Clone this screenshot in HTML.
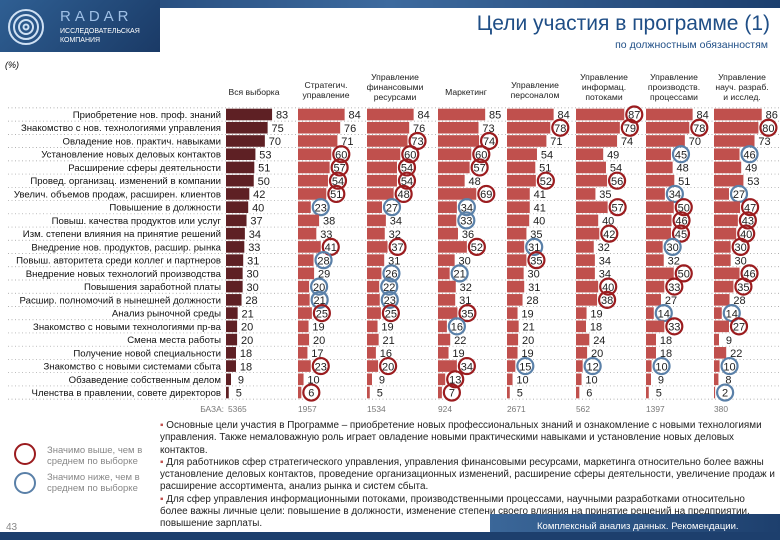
<!DOCTYPE html>
<html><head><meta charset="utf-8">
<style>
body{margin:0;width:780px;height:540px;overflow:hidden;background:#fff;font-family:"Liberation Sans",sans-serif;position:relative}
.abs{position:absolute}
</style></head><body>
<div class="abs" style="left:0;top:0;width:780px;height:8px;background:linear-gradient(90deg,#1c3f6e,#3d6a9e,#1c3f6e)"></div>
<div class="abs" style="left:0;top:0;width:160px;height:52px;background:linear-gradient(135deg,#2f5f93,#1a3a66)"></div>
<svg class="abs" style="left:6px;top:6px" width="40" height="42"><g fill="none" stroke="#cfe0f3" stroke-width="2"><circle cx="20" cy="21" r="17"/><circle cx="20" cy="21" r="12"/><circle cx="20" cy="21" r="7"/><circle cx="20" cy="21" r="2.5"/></g></svg>
<div class="abs" style="left:60px;top:8px;color:#9fc0e6;font-size:15px;letter-spacing:4px">RADAR</div>
<div class="abs" style="left:60px;top:27px;color:#fff;font-size:7px;line-height:9px">ИССЛЕДОВАТЕЛЬСКАЯ<br>КОМПАНИЯ</div>
<div class="abs" style="right:10px;top:12px;color:#1f4e86;font-size:21px">Цели участия в программе (1)</div>
<div class="abs" style="right:12px;top:39px;color:#1f4e86;font-size:10.5px">по должностным обязанностям</div>
<div class="abs" style="left:5px;top:60px;font-size:9px;font-style:italic">(%)</div>
<svg id="chart" class="abs" style="left:0;top:0" width="780" height="415"></svg>
<div class="abs" style="left:14px;top:443px;width:18px;height:18px;border:2.5px solid #9b1c1f;border-radius:50%"></div>
<div class="abs" style="left:47px;top:445px;font-size:9.5px;color:#888;line-height:11px">Значимо выше, чем в<br>среднем по выборке</div>
<div class="abs" style="left:14px;top:472px;width:18px;height:18px;border:2.5px solid #5a80a8;border-radius:50%"></div>
<div class="abs" style="left:47px;top:472px;font-size:9.5px;color:#888;line-height:11px">Значимо ниже, чем в<br>среднем по выборке</div>
<div class="abs" style="left:6px;top:522px;font-size:10px;color:#888">43</div>
<div class="abs" style="left:160px;top:420px;width:615px;font-size:9.9px;line-height:12.3px;color:#222">
<span style="color:#c0504d">▪</span> Основные цели участия в Программе – приобретение новых профессиональных знаний и ознакомление с новыми технологиями управления. Также немаловажную роль играет овладение новыми практическими навыками и установление новых деловых контактов.<br>
<span style="color:#c0504d">▪</span> Для работников сфер стратегического управления, управления финансовыми ресурсами, маркетинга относительно более важны установление деловых контактов, проведение организационных изменений, расширение сферы деятельности, увеличение продаж и расширение ассортимента, анализ рынка и систем сбыта.<br>
<span style="color:#c0504d">▪</span> Для сфер управления информационными потоками, производственными процессами, научными разработками относительно более важны личные цели: повышение в должности, изменение степени своего влияния на принятие решений на предприятии, повышение зарплаты.</div>
<div class="abs" style="left:490px;top:514px;width:290px;height:26px;background:linear-gradient(90deg,#3b6799,#1d3f6d)"></div>
<div class="abs" style="left:0;top:532px;width:780px;height:8px;background:#1d3f6d"></div>
<div class="abs" style="left:537px;top:521px;font-size:9.5px;color:#fff">Комплексный анализ данных. Рекомендации.</div>
<script>
const categories=["Приобретение нов. проф. знаний","Знакомство с нов. технологиями управления","Овладение нов. практич. навыками","Установление новых деловых контактов","Расширение сферы деятельности","Провед. организац. изменений в компании","Увелич. объемов продаж, расширен. клиентов","Повышение в должности","Повыш. качества продуктов или услуг","Изм. степени влияния на принятие решений","Внедрение нов. продуктов, расшир. рынка","Повыш. авторитета среди коллег и партнеров","Внедрение новых технологий производства","Повышения заработной платы","Расшир. полномочий в нынешней должности","Анализ рыночной среды","Знакомство с новыми технологиями пр-ва","Смена места работы","Получение новой специальности","Знакомство с новыми системами сбыта","Обзаведение собственным делом","Членства в правлении, совете директоров"];
const groups=["Вся выборка","Стратегич.|управление","Управление|финансовыми|ресурсами","Маркетинг","Управление|персоналом","Управление|информац.|потоками","Управление|производств.|процессами","Управление|науч. разраб.|и исслед."];
const bases=["5365","1957","1534","924","2671","562","1397","380"];
const s0=[83,75,70,53,51,50,42,40,37,34,33,31,30,30,28,21,20,20,18,18,9,5];
const s1=[84,76,71,60,57,54,51,23,38,33,41,28,29,20,21,25,19,20,17,23,10,6];
const s2=[84,76,73,60,54,54,48,27,34,32,37,31,26,22,23,25,19,21,16,20,9,5];
const s3=[85,73,74,60,57,48,69,34,33,36,52,30,21,32,31,35,16,22,19,34,13,7];
const s4=[84,78,71,54,51,52,41,41,40,35,31,35,30,31,28,19,21,20,19,15,10,5];
const s5=[87,79,74,49,54,56,35,57,40,42,32,34,34,40,38,19,18,24,20,12,10,6];
const s6=[84,78,70,45,48,51,34,50,46,45,30,32,50,33,27,14,33,18,18,10,9,5];
const s7=[86,80,73,46,49,53,27,47,43,40,30,30,46,35,28,14,27,9,22,10,8,2];
const sig=[
"0000000000000000000000",
"000HHHHL00HL0LLH000H0H",
"00HHHHHL00H0LLLH000H00",
"00HHH0HLL0H0L00HL00HHH",
"0H000H0000LH0000000L00",
"HH000H0H0H000HH0000L00",
"0H0L00LHHHL0HH0LH00L00",
"0H0L00LHHHH0HH0LH00L0L"];
const series=[s0,s1,s2,s3,s4,s5,s6,s7];
const svg=document.getElementById('chart');const NS='http://www.w3.org/2000/svg';
function el(t,a,txt){const e=document.createElementNS(NS,t);for(const k in a)e.setAttribute(k,a[k]);if(txt!==undefined)e.textContent=txt;svg.appendChild(e);return e;}
const colX=[226,298,367,438,507,576,646,714];
const xs=v=>v*0.555;
const y0=114.5,pitch=13.24;
const ys=i=>y0+i*pitch;
for(let i=0;i<=categories.length;i++){const l=el('line',{x1:8,x2:780,y1:ys(i)-pitch/2,y2:ys(i)-pitch/2,stroke:'#999','stroke-width':0.7,'stroke-dasharray':'1,2.5'});}
categories.forEach((c,i)=>{const t=el('text',{x:221,y:ys(i)+3.5,'text-anchor':'end','font-size':9.6,fill:'#111'},c);});
groups.forEach((g,j)=>{const lines=g.split('|');const cx=colX[j]+28;const top=lines.length==1?95:(lines.length==2?88:80);
lines.forEach((ln,k)=>{const t=el('text',{x:cx,y:top+k*10,'text-anchor':'middle','font-size':8.6,fill:'#222'},ln);});
const b=el('text',{x:colX[j]+(j==0?2:0),y:412,'font-size':8.4,fill:'#777'},bases[j]);});
const bz=el('text',{x:224,y:412,'font-size':8.4,fill:'#777','text-anchor':'end'},'БАЗА:');
series.forEach((s,j)=>{s.forEach((v,i)=>{const w=xs(v);
const r=el('rect',{x:colX[j],y:ys(i)-5.8,width:w,height:11.6,fill:j==0?'#5e2024':'#c0504d'});
const tx=colX[j]+w+10;
const t=el('text',{x:tx,y:ys(i)+4.2,'text-anchor':'middle','font-size':11,fill:'#222'},String(v));
const f=sig[j][i];if(f==='H'||f==='L'){const c=el('circle',{cx:tx,cy:ys(i),r:8,fill:'none',stroke:f==='H'?'#9b1c1f':'#5a80a8','stroke-width':2.2});}
});});
</script>
</body></html>
